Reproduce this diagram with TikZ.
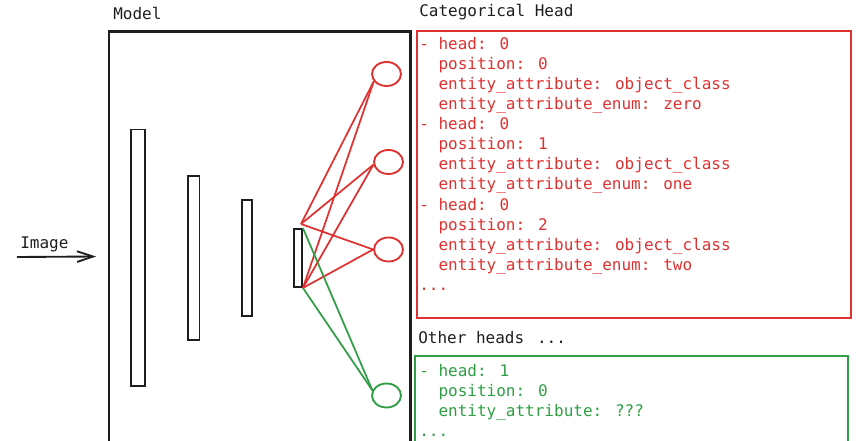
\documentclass[tikz,border=0pt]{standalone}
\usepackage{fontspec}
\newfontfamily\codefont{DejaVu Sans Mono}
\usetikzlibrary{arrows.meta,shapes.geometric}
\definecolor{exred}{HTML}{E03131}
\definecolor{exgreen}{HTML}{2F9E44}
\definecolor{exblack}{HTML}{1E1E1E}
\newcommand{\ind}{\hphantom{xx}}
\newcommand{\moredots}{.{}.{}.}

\begin{document}
\begin{tikzpicture}[x=0.75pt,y=0.75pt,yscale=-1,xscale=1,
  codetext/.style={anchor=base west,inner sep=0pt,font=\codefont\fontsize{12}{15}\selectfont},
  layerbar/.style={draw=exblack,line width=1.4pt,inner sep=0pt},
  unit/.style={ellipse,draw,line width=1.4pt,minimum width=21.75pt,minimum height=18pt,inner sep=0pt},
  link/.style={line width=1.3pt},
  headbox/.style={line width=1.6pt}]
\useasboundingbox (0,0) rectangle (863,441);

%Model box (runs off the bottom)
\draw[exblack,headbox] (109,442) -- (109,31.5) -- (410.5,31.5) -- (410.5,442);
% Text Node
\node[codetext,exblack] (modellbl) at (113,20) {Model};

%Input arrow
\node[codetext,exblack] (imglbl) at (20,249) {Image};
\coordinate (imgfrom) at (17,257);
\coordinate (imgto) at (96,256.5);
\draw[exblack,line width=1.4pt,-{Straight Barb[length=12pt,width=8pt]}] (imgfrom) -- (imgto);

%Layers
\node[layerbar,minimum width=10.5pt,minimum height=192.4pt] (bar1) at (138,257.75) {};
\node[layerbar,minimum width=8.5pt,minimum height=123.3pt] (bar2) at (193.8,258) {};
\node[layerbar,minimum width=7.2pt,minimum height=86.7pt] (bar3) at (247,258) {};
\node[layerbar,minimum width=6pt,minimum height=43.5pt] (bar4) at (298,258) {};

%Output units
\node[unit,exred] (u1) at (386.5,74) {};
\node[unit,exred] (u2) at (388.5,162) {};
\node[unit,exred] (u3) at (388.5,249.5) {};
\node[unit,exgreen] (u4) at (386.5,395.5) {};

%Connections
\coordinate (redtop) at (301,224);
\foreach \u/\a in {u1/210,u2/190,u3/180}{
  \draw[exred,link] (redtop) -- (\u.\a);
  \draw[exred,link] (bar4.south east) -- (\u.\a);
}
\draw[exgreen,link] (bar4.north east) -- (u4.160);
\draw[exgreen,link] (bar4.south east) -- (u4.160);

%Categorical head
\node[codetext,exblack] (catlbl) at (419,16.5) {Categorical Head};
\draw[exred,headbox] (417,31) rectangle (851,318);
\foreach \t [count=\i from 0] in {{- head: 0},{\ind position: 0},{\ind entity\_attribute: object\_class},{\ind entity\_attribute\_enum: zero},
  {- head: 0},{\ind position: 1},{\ind entity\_attribute: object\_class},{\ind entity\_attribute\_enum: one},
  {- head: 0},{\ind position: 2},{\ind entity\_attribute: object\_class},{\ind entity\_attribute\_enum: two},{\moredots}}
  \node[codetext,exred] (cat\i) at (419,{49.3+20.1*\i}) {\t};

%Other heads (runs off the bottom)
\node[codetext,exblack] (otherlbl) at (418,343.5) {Other heads\hspace{0.8em}\moredots};
\draw[exgreen,headbox] (415,442) -- (415,356) -- (848,356) -- (848,442);
\foreach \t [count=\i from 0] in {{- head: 1},{\ind position: 0},{\ind entity\_attribute: ???},{\moredots}}
  \node[codetext,exgreen] (oth\i) at (419,{376+20.1*\i}) {\t};

\end{tikzpicture}
\end{document}
